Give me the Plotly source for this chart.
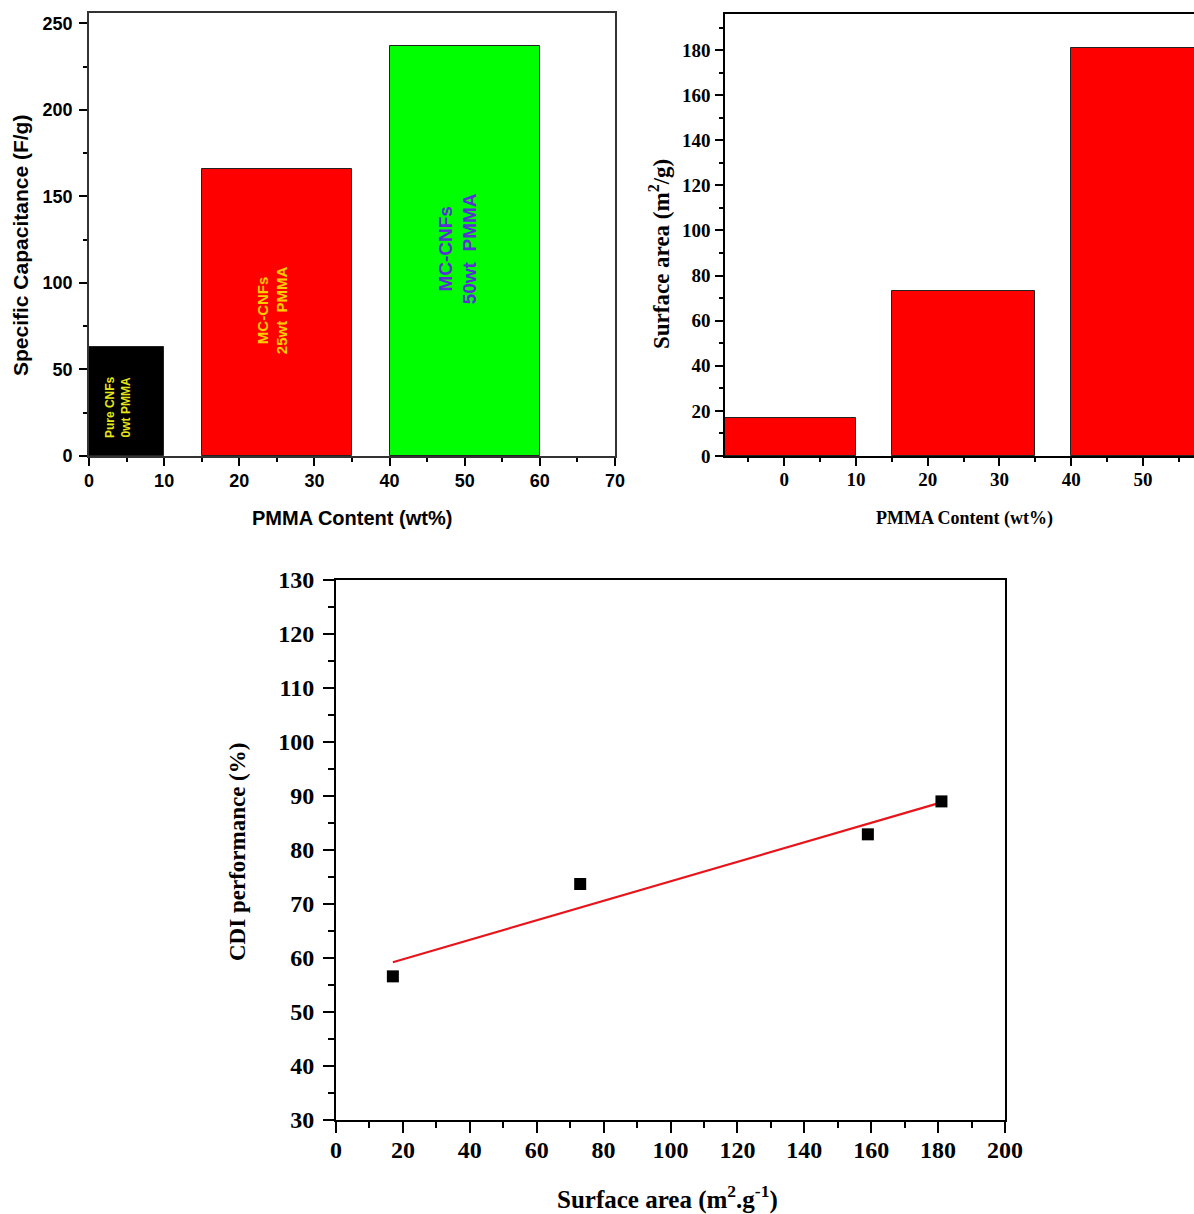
import numpy as np
import plotly.graph_objects as go

W, H = 1194, 1214

# ---------------- data ----------------
# Top-left: specific capacitance vs PMMA content
cap_labels = ["Pure CNFs<br>0wt PMMA", "MC-CNFs<br>25wt  PMMA", "MC-CNFs<br>50wt  PMMA"]
cap_bar_centers = [5, 25, 50]
cap_bar_widths = [10, 20, 20]
cap_values = [63, 166, 237]
cap_colors = ["#000000", "#FF0000", "#00FF00"]

# Top-right: surface area vs PMMA content
sa_pmma = [0, 25, 50]
sa_bar_widths = [20, 20, 20]
sa_values = [17, 73, 181]

# Bottom: CDI performance vs surface area
cdi_surface = [17, 73, 159, 181]
cdi_perf = [56.6, 73.7, 82.9, 89.0]

# ---------------- helpers ----------------
def px(x):
    return x / W

def py(y):
    return 1 - y / H

ARIAL = "Liberation Sans, Arial, sans-serif"
TIMES = "Liberation Serif, Times New Roman, serif"

fig = go.Figure()

# Top-left bars
fig.add_trace(go.Bar(
    x=cap_bar_centers, y=cap_values, width=cap_bar_widths,
    marker=dict(color=cap_colors, line=dict(color="#222222", width=1)),
    xaxis="x", yaxis="y", showlegend=False))

# Top-right bars
fig.add_trace(go.Bar(
    x=sa_pmma, y=sa_values, width=sa_bar_widths,
    marker=dict(color="#FF0000", line=dict(color="#222222", width=1)),
    xaxis="x2", yaxis="y2", showlegend=False))

# Bottom scatter + linear fit
slope, intercept = np.polyfit(cdi_surface, cdi_perf, 1)
fit_x = [min(cdi_surface), max(cdi_surface)]
fit_y = [slope * v + intercept for v in fit_x]
fig.add_trace(go.Scatter(
    x=fit_x, y=fit_y, mode="lines",
    line=dict(color="#E8141B", width=2.2),
    xaxis="x3", yaxis="y3", showlegend=False))
fig.add_trace(go.Scatter(
    x=cdi_surface, y=cdi_perf, mode="markers",
    marker=dict(symbol="square", size=12, color="#000000"),
    xaxis="x3", yaxis="y3", showlegend=False))


def axis_common(font_family, size, lw, tl, standoff, linecolor="#000000"):
    return dict(
        showline=True, linecolor=linecolor, linewidth=lw, mirror=True,
        ticks="outside", ticklen=tl, tickwidth=lw, tickcolor="#000000",
        showgrid=False, zeroline=False, automargin=False,
        ticklabelstandoff=standoff,
        tickfont=dict(family=font_family, size=size, color="#000000", weight="bold"),
        fixedrange=True,
    )


def minor(dt, mtl, lw):
    return dict(ticks="outside", ticklen=mtl, tickwidth=lw, tickcolor="#000000", dtick=dt)


fig.update_layout(
    xaxis=dict(domain=[px(89), px(615)], anchor="y", range=[0, 70],
               tickmode="linear", tick0=0, dtick=10, minor=minor(5, 4, 1.6),
               **axis_common(ARIAL, 18, 1.6, 8, 0, "#333333")),
    yaxis=dict(domain=[py(456), py(13)], anchor="x", range=[0, 256],
               tickmode="linear", tick0=0, dtick=50, minor=minor(25, 4, 1.6),
               **axis_common(ARIAL, 18, 1.6, 8, 3, "#333333")),
    xaxis2=dict(domain=[px(725), 1.0], anchor="y2", range=[-8.24, 57.12],
                tickmode="linear", tick0=0, dtick=10, minor=minor(5, 4, 1.6),
                **axis_common(TIMES, 19, 1.6, 8, -3)),
    yaxis2=dict(domain=[py(456), py(14)], anchor="x2", range=[0, 196],
                tickmode="linear", tick0=0, dtick=20, minor=minor(10, 4, 1.6),
                **axis_common(TIMES, 19, 1.6, 8, 1)),
    xaxis3=dict(domain=[px(336), px(1005)], anchor="y3", range=[0, 200],
                tickmode="linear", tick0=0, dtick=20, minor=minor(10, 6, 2),
                **axis_common(TIMES, 24, 2, 11, -4)),
    yaxis3=dict(domain=[py(1120), py(580)], anchor="x3", range=[30, 130],
                tickmode="linear", tick0=30, dtick=10, minor=minor(5, 6, 2),
                **axis_common(TIMES, 24, 2, 11, 4)),
)

annotations = []

# Bar labels in top-left chart
label_pos = [(3.8, 28), (24.4, 84.5), (49.1, 120)]
label_colors = ["#E6E619", "#FFCC00", "#5A2FD6"]
label_sizes = [12, 15, 19]
for (lx, ly), txt, c, s in zip(label_pos, cap_labels, label_colors, label_sizes):
    annotations.append(dict(x=lx, y=ly, xref="x", yref="y", text=txt, showarrow=False,
                            xanchor="center", yanchor="middle",
                            textangle=-90, font=dict(family=ARIAL, size=s, color=c, weight="bold")))

# Axis titles
def title(x, y, text, fam, size, angle=0):
    return dict(x=px(x), y=py(y), xref="paper", yref="paper", text=text,
                textangle=angle, showarrow=False, xanchor="center", yanchor="middle",
                font=dict(family=fam, size=size, color="#000", weight="bold"))

annotations += [
    title(21, 246, "Specific Capacitance (F/g)", ARIAL, 21, -90),
    title(352, 518, "PMMA Content (wt%)", ARIAL, 20),
    title(660, 254, "Surface area (m<sup>2</sup>/g)", TIMES, 23, -90),
    title(964, 518, "PMMA Content (wt%)", TIMES, 18),
    title(237, 852, "CDI performance (%)", TIMES, 23, -90),
    title(667, 1197, "Surface area (m<sup>2</sup>.g<sup>-1</sup>)", TIMES, 25),
]

fig.update_layout(
    width=W, height=H, autosize=False,
    margin=dict(l=0, r=0, t=0, b=0, autoexpand=False),
    paper_bgcolor="#FFFFFF", plot_bgcolor="#FFFFFF",
    annotations=annotations,
    bargap=0,
)

fig.write_html("out.html", config={"displayModeBar": False},
               post_script="document.body.style.margin='0px';document.body.style.overflow='hidden';")
